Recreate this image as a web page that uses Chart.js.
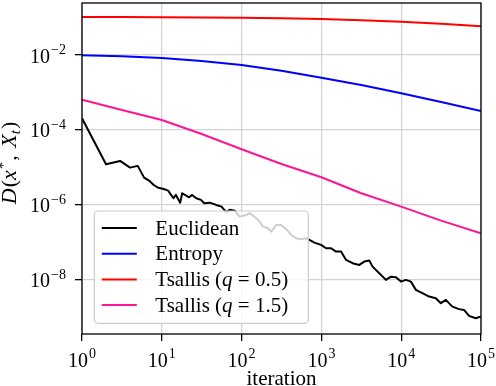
<!DOCTYPE html>
<html><head><meta charset="utf-8">
<script src="https://cdn.jsdelivr.net/npm/chart.js@4.4.0/dist/chart.umd.min.js"></script>
<style>html,body{margin:0;padding:0;background:#fff;}canvas{display:block;}</style>
</head><body>
<canvas id="c" width="496" height="386" style="width:496px;height:386px"></canvas>
<script>
// ---- data ----
const smoothIterations = [1, 3.16, 10, 31.6, 100, 316, 1000, 3162, 10000, 31623, 100000];
const entropyValues   = [0.00982, 0.00923, 0.00832, 0.00692, 0.00541, 0.00379, 0.00248, 0.00158, 9.53e-4, 5.58e-4, 3.21e-4];
const tsallis05Values = [0.103, 0.1025, 0.101, 0.100, 0.0989, 0.0957, 0.0912, 0.0848, 0.0773, 0.0679, 0.0582];
const tsallis15Values = [6.43e-4, 3.41e-4, 1.85e-4, 7.82e-5, 3.05e-5, 1.24e-5, 5.48e-6, 2.05e-6, 9.0e-7, 3.81e-7, 1.76e-7];
const euclidIterations = [1,2,3,4,5,6,7,8,9,10,11,12,14,15,17,18,22,24,27,31,34,40,48,56,64,71,82,94,115,126,145,168,185,213,235,272,313,362,418,483,557,644,708,818,991,1145,1322,1527,1763,2037,2462,2985,3447,3981,4377,5309,6440,7436,8585,9914,11450,13220,15270,18450,22390,27160,31350,36220,43780,53090,61310,70790,85900,100000];
const euclidValues = [2.05e-4,1.22e-5,1.49e-5,9.9e-6,1.10e-5,5.35e-6,4.36e-6,3.35e-6,2.89e-6,2.75e-6,2.59e-6,2.40e-6,1.51e-6,1.85e-6,1.15e-6,2.05e-6,1.60e-6,1.85e-6,1.51e-6,1.36e-6,1.11e-6,1.15e-6,1.0e-6,9.0e-7,6.4e-7,7.4e-7,7.05e-7,4.88e-7,5.4e-7,6.0e-7,4.88e-7,3.59e-7,2.64e-7,2.39e-7,1.94e-7,2.93e-7,2.93e-7,2.25e-7,1.58e-7,1.29e-7,1.22e-7,1.29e-7,1.17e-7,9.9e-8,8.6e-8,7.0e-8,7.0e-8,5.69e-8,5.69e-8,3.41e-8,2.79e-8,2.51e-8,3.08e-8,3.27e-8,2.26e-8,1.51e-8,1.0e-8,1.22e-8,1.18e-8,9.0e-9,1.0e-8,9.0e-9,5.41e-9,4.42e-9,3.59e-9,3.25e-9,2.39e-9,2.93e-9,1.94e-9,1.66e-9,1.58e-9,1.10e-9,9.5e-10,1.05e-9];
const seriesLabels = ['Euclidean', 'Entropy', 'Tsallis (q = 0.5)', 'Tsallis (q = 1.5)'];
const seriesColors = ['#000000', '#0000ff', '#ff0000', '#ff1493'];
const xTickExponents = [0, 1, 2, 3, 4, 5];
const yTickExponents = [-8, -6, -4, -2];
const xAxisTitle = 'iteration';
const xAxisMin = 1, xAxisMax = 100000;
const yAxisMin = 3.6e-10, yAxisMax = 0.244;

// ---- helpers ----
const SERIF = '"Liberation Serif", "DejaVu Serif", serif';
function fnt(size, it) { return (it ? 'italic ' : '') + size + 'px ' + SERIF; }
function pts(xs, ys) { return xs.map((x, i) => ({x: x, y: ys[i]})); }
function richWidth(ctx, segs) {
  let w = 0;
  segs.forEach(s => { ctx.font = fnt(s.size, s.it); w += ctx.measureText(s.t).width + (s.gap || 0); });
  return w;
}
function drawRich(ctx, segs, x, y) {
  let cx = x;
  segs.forEach(s => {
    ctx.font = fnt(s.size, s.it);
    ctx.fillText(s.t, cx, y + (s.dy || 0));
    cx += ctx.measureText(s.t).width + (s.gap || 0);
  });
}
function powSegs(e, big, small) {
  return [{t: '10', size: big, gap: 1}, {t: String(e).replace('-', '\u2212'), size: small, dy: -8.7}];
}
function legendSegs(label, size) {
  const m = label.match(/^(.*\()q(.*)$/);
  if (!m) return [{t: label, size: size}];
  return [{t: m[1], size: size}, {t: 'q', size: size, it: true}, {t: m[2], size: size}];
}

const decor = {
  id: 'decor',
  afterDatasetsDraw(chart) {
    const ctx = chart.ctx, ca = chart.chartArea;
    const xs = chart.scales.x, ys = chart.scales.y;
    ctx.save();
    // legend
    const lx = ca.left + 12.3, ly = ca.bottom - 123, lw = 214, lh = 112.3;
    ctx.beginPath();
    ctx.roundRect(lx, ly, lw, lh, 4);
    ctx.fillStyle = 'rgba(255,255,255,0.8)';
    ctx.fill();
    ctx.strokeStyle = '#cccccc';
    ctx.lineWidth = 1.2;
    ctx.stroke();
    chart.data.datasets.forEach((ds, i) => {
      const ry = ly + 17 + i * 25.7;
      ctx.beginPath();
      ctx.moveTo(lx + 7.5, ry); ctx.lineTo(lx + 42.5, ry);
      ctx.strokeStyle = ds.borderColor; ctx.lineWidth = 2; ctx.stroke();
      ctx.fillStyle = '#000'; ctx.textAlign = 'left'; ctx.textBaseline = 'alphabetic';
      drawRich(ctx, legendSegs(ds.label, 21), lx + 61, ry + 6.5);
    });
    // spines
    ctx.strokeStyle = '#000'; ctx.lineWidth = 1.3;
    ctx.strokeRect(ca.left, ca.top, ca.right - ca.left, ca.bottom - ca.top);
    // tick labels
    ctx.fillStyle = '#000'; ctx.textAlign = 'left'; ctx.textBaseline = 'alphabetic';
    xTickExponents.forEach(e => {
      const px = xs.getPixelForValue(Math.pow(10, e));
      const segs = powSegs(e, 20, 14);
      const w = richWidth(ctx, segs);
      drawRich(ctx, segs, px - w / 2, ca.bottom + 32.7);
    });
    yTickExponents.forEach(e => {
      const py = ys.getPixelForValue(Math.pow(10, e));
      const segs = powSegs(e, 20, 14);
      const w = richWidth(ctx, segs);
      drawRich(ctx, segs, ca.left - 16 - w, py + 7.5);
    });
    // x title
    ctx.font = fnt(21);
    ctx.textAlign = 'center';
    ctx.fillText(xAxisTitle, (ca.left + ca.right) / 2, 384.5);
    // y title: D(x*, X_t)
    const yt = [
      {t: 'D', size: 22, it: true, gap: 1},
      {t: '(', size: 22},
      {t: 'x', size: 22, it: true, gap: 1},
      {t: '*', size: 15, dy: -8, gap: 1},
      {t: ', ', size: 22, gap: 2},
      {t: 'X', size: 22, it: true},
      {t: 't', size: 15, it: true, dy: 4, gap: 1},
      {t: ')', size: 22}
    ];
    ctx.textAlign = 'left';
    const tw = richWidth(ctx, yt);
    ctx.translate(16, 163);
    ctx.rotate(-Math.PI / 2);
    drawRich(ctx, yt, -tw / 2, 0);
    ctx.restore();
  }
};

const datasets = [
  {label: seriesLabels[0], data: pts(euclidIterations, euclidValues), borderColor: seriesColors[0]},
  {label: seriesLabels[1], data: pts(smoothIterations, entropyValues), borderColor: seriesColors[1]},
  {label: seriesLabels[2], data: pts(smoothIterations, tsallis05Values), borderColor: seriesColors[2]},
  {label: seriesLabels[3], data: pts(smoothIterations, tsallis15Values), borderColor: seriesColors[3]}
].map(d => Object.assign(d, {borderWidth: 2, pointRadius: 0, tension: 0, fill: false, showLine: true, borderJoinStyle: 'round'}));

new Chart(document.getElementById('c'), {
  type: 'scatter',
  data: {datasets: datasets},
  options: {
    responsive: false, animation: false, devicePixelRatio: 1,
    layout: {padding: {top: 3, right: 15, left: 0, bottom: 0}},
    plugins: {legend: {display: false}, tooltip: {enabled: false}},
    scales: {
      x: {
        type: 'logarithmic', min: xAxisMin, max: xAxisMax,
        afterBuildTicks: s => { s.ticks = xTickExponents.map(e => ({value: Math.pow(10, e)})); },
        afterFit: s => { s.height = 52; },
        ticks: {display: false},
        grid: {color: '#d3d3d3', lineWidth: 1.3, drawTicks: true, tickLength: 7, tickColor: '#000', tickWidth: 1.3},
        border: {display: false}
      },
      y: {
        type: 'logarithmic', min: yAxisMin, max: yAxisMax,
        afterBuildTicks: s => { s.ticks = yTickExponents.map(e => ({value: Math.pow(10, e)})); },
        afterFit: s => { s.width = 82; },
        ticks: {display: false},
        grid: {color: '#d3d3d3', lineWidth: 1.3, drawTicks: true, tickLength: 7, tickColor: '#000', tickWidth: 1.3},
        border: {display: false}
      }
    }
  },
  plugins: [decor]
});
</script>
</body></html>
